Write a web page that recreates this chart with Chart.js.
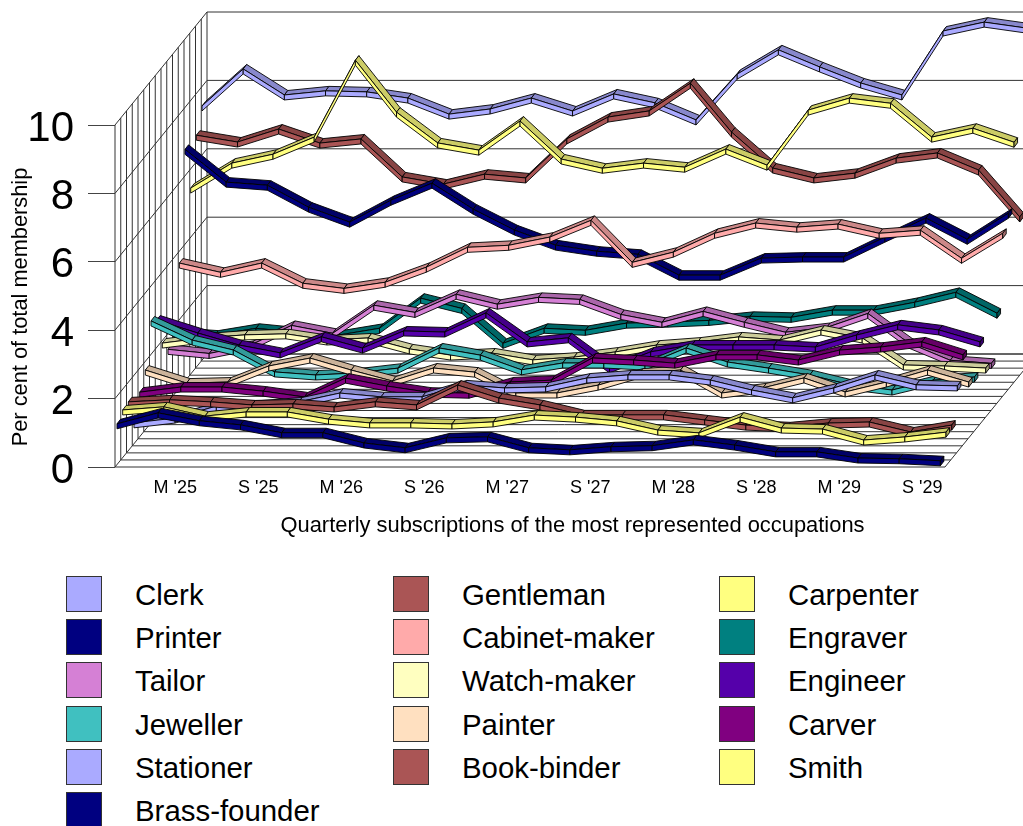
<!DOCTYPE html>
<html>
<head>
<meta charset="utf-8">
<title>Quarterly subscriptions</title>
<script src="https://cdn.jsdelivr.net/npm/chart.js@4"></script>
<style>
  html, body { margin: 0; padding: 0; width: 1023px; height: 826px; overflow: hidden; background: #fff; }
  body { position: relative; font-family: "Liberation Sans", Arial, sans-serif; color: #000; }
  #chart { position: absolute; left: 0; top: 0; }
  .legend-col { position: absolute; top: 576px; }
  .legend-row { position: relative; height: 43.2px; width: 300px; }
  .swatch { position: absolute; left: 0; top: 0; width: 34px; height: 34px; border: 1px solid #333; }
  .legend-row span { position: absolute; left: 69px; top: 1px; font-size: 29.4px; line-height: 36px; white-space: nowrap; }
</style>
</head>
<body>
<canvas id="chart" width="1030" height="545"></canvas>
<div class="legend-col" style="left:66px" data-col="0"></div>
<div class="legend-col" style="left:393px" data-col="1"></div>
<div class="legend-col" style="left:719px" data-col="2"></div>
<script>
// ── Data ──────────────────────────────────────────────────────────
const xLabels = ["M '25", "S '25", "M '26", "S '26", "M '27", "S '27", "M '28", "S '28", "M '29", "S '29"];
const yMaxTick = 10;

const clerk        = [7.40,8.48,7.72,7.84,7.81,7.63,7.16,7.31,7.63,7.25,7.75,7.49,6.99,8.33,9.04,8.54,8.07,7.72,9.59,9.85,9.68];
const gentleman    = [6.75,6.55,6.93,6.52,6.64,5.53,5.32,5.61,5.50,6.64,7.28,7.46,8.27,6.84,5.79,5.50,5.64,6.08,6.23,5.73,4.36];
const carpenter    = [5.41,6.14,6.40,6.90,9.15,7.63,6.73,6.52,7.37,6.26,5.99,6.14,6.02,6.55,6.08,7.69,8.04,7.89,6.90,7.16,6.75];
const printer      = [6.75,5.79,5.70,5.06,4.62,5.26,5.76,5.00,4.39,3.95,3.77,3.68,3.07,3.07,3.57,3.60,3.60,4.18,4.74,4.12,4.88];
const cabinetMaker = [3.63,3.36,3.63,3.04,2.89,3.07,3.51,4.09,4.15,4.39,4.88,3.65,3.95,4.50,4.80,4.68,4.77,4.50,4.59,3.77,4.50];
const engraver     = [1.81,1.73,1.93,1.81,1.73,1.93,2.81,2.51,1.49,1.93,1.87,2.08,2.11,2.16,2.28,2.25,2.46,2.46,2.69,2.98,2.37];
const tailor       = [1.52,1.40,1.64,2.22,1.99,2.81,2.60,3.13,2.84,3.04,2.98,2.54,2.31,2.63,2.31,2.02,2.16,2.57,1.70,1.20,1.11];
const watchMaker   = [1.91,2.06,2.15,2.18,2.00,2.06,1.74,1.56,1.62,1.42,1.50,1.65,1.85,1.94,2.09,2.00,2.29,2.06,1.27,1.24,1.18];
const engineer     = [2.79,2.41,2.06,1.83,2.30,1.97,2.47,2.44,3.00,2.15,2.27,1.39,1.86,2.06,2.06,2.06,2.00,2.35,2.65,2.50,2.15];
const jeweller     = [2.97,2.41,2.12,1.48,1.39,1.45,1.59,2.18,1.97,1.54,1.74,1.74,1.68,2.18,1.77,1.59,1.39,1.10,0.95,1.24,1.33];
const painter      = [1.74,1.36,1.39,1.86,2.09,1.74,1.42,1.80,1.68,1.07,1.07,1.30,1.65,1.74,1.07,1.22,1.51,1.10,1.39,1.74,1.39];
const carver       = [1.30,1.45,1.45,1.33,1.16,1.71,1.48,1.30,1.27,1.60,1.65,2.30,2.24,2.15,2.39,2.39,2.24,2.53,2.62,2.77,2.39];
const stationer    = [0.61,0.75,1.10,1.13,1.22,1.48,1.37,1.37,1.72,1.63,1.66,1.92,2.01,2.01,1.86,1.57,1.34,1.63,2.01,1.72,1.69];
const bookBinder   = [1.43,1.49,1.43,1.34,1.37,1.28,1.43,1.34,1.92,1.54,1.34,1.05,1.05,1.05,0.90,0.75,0.70,0.81,0.84,0.55,0.75];
const smith        = [1.40,1.49,1.22,1.34,1.34,1.13,1.02,1.02,0.99,1.05,1.25,1.19,1.08,0.81,0.73,1.19,0.87,0.84,0.52,0.61,0.75];
const brassFounder = [1.20,1.52,1.29,1.17,0.94,0.94,0.64,0.50,0.79,0.82,0.50,0.44,0.53,0.56,0.73,0.58,0.38,0.38,0.20,0.18,0.12];

// Back row first: the position in this list sets the row on the floor
const seriesNames  = ['Clerk','Gentleman','Carpenter','Printer','Cabinet-maker','Engraver','Tailor','Watch-maker',
                      'Engineer','Jeweller','Painter','Carver','Stationer','Book-binder','Smith','Brass-founder'];
const seriesValues = [clerk,gentleman,carpenter,printer,cabinetMaker,engraver,tailor,watchMaker,
                      engineer,jeweller,painter,carver,stationer,bookBinder,smith,brassFounder];
const seriesColors = ['#AAAAFF','#AA5555','#FFFF80','#000080','#FFAAAA','#008080','#D580D5','#FFFFC0',
                      '#5500AA','#40C0C0','#FFE0C0','#800080','#AAAAFF','#AA5555','#FFFF80','#000080'];

const legendColumns = [
    ['Clerk','Printer','Tailor','Jeweller','Stationer','Brass-founder'],
    ['Gentleman','Cabinet-maker','Watch-maker','Painter','Book-binder'],
    ['Carpenter','Engraver','Engineer','Carver','Smith']
];

// ── Oblique projection, in axis units ─────────────────────────────
const ROW_COUNT    = 16;
const QUARTER_STEP = 0.992;   // spacing of the points along x
const ROW_SHIFT_X  = 0.1366;  // sideways shift of one floor row
const ROW_SHIFT_Y  = 0.2064;  // upward shift of one floor row
const ROW_START_X  = 0.048;
const ROW_START_Y  = 0.062;
const WALL_X       = 92 / 41.5;
const WALL_Y       = 113 / 34.2;
const FLOOR_WIDTH  = 20;

// Ribbon thickness in pixels
const RIBBON_DEPTH_X = 3.5;
const RIBBON_DEPTH_Y = -4.5;
const RIBBON_HEIGHT  = 5;
const EDGE_COLOR     = '#000';

function darken(hex, factor) {
    const n = parseInt(hex.slice(1), 16);
    const ch = s => Math.round(((n >> s) & 255) * factor);
    return `rgb(${ch(16)},${ch(8)},${ch(0)})`;
}

function polygon(ctx, pts, fill) {
    ctx.beginPath();
    pts.forEach((p, i) => i ? ctx.lineTo(p[0], p[1]) : ctx.moveTo(p[0], p[1]));
    ctx.closePath();
    ctx.fillStyle = fill;
    ctx.fill();
    ctx.stroke();
}

// ── Walls and floor grid ──────────────────────────────────────────
const wallGrid = {
    id: 'wallGrid',
    beforeDatasetsDraw(chart) {
        const { ctx, scales: { x, y } } = chart;
        const line = (u0, v0, u1, v1) => {
            ctx.beginPath();
            ctx.moveTo(x.getPixelForValue(u0), y.getPixelForValue(v0));
            ctx.lineTo(x.getPixelForValue(u1), y.getPixelForValue(v1));
            ctx.stroke();
        };
        ctx.save();
        ctx.strokeStyle = '#333';
        ctx.lineWidth = 1;

        for (let v = 0; v <= yMaxTick; v += 2) {
            line(0, v, WALL_X, v + WALL_Y);                             // side wall
            line(WALL_X, v + WALL_Y, WALL_X + FLOOR_WIDTH, v + WALL_Y); // back wall
        }
        for (let k = 0; k <= ROW_COUNT; k++) {
            const f = k / ROW_COUNT;
            line(f * WALL_X, f * WALL_Y, f * WALL_X, f * WALL_Y + yMaxTick);  // side wall uprights
            line(f * WALL_X, f * WALL_Y, f * WALL_X + FLOOR_WIDTH, f * WALL_Y); // floor rows
        }
        line(FLOOR_WIDTH, 0, FLOOR_WIDTH + WALL_X, WALL_Y);
        ctx.restore();
    }
};

// ── Ribbons: each line dataset is painted as a folded strip ───────
const ribbons = {
    id: 'ribbons',
    beforeDatasetDraw(chart, args) {
        const { ctx } = chart;
        const pts = args.meta.data;
        const color = chart.data.datasets[args.index].borderColor;
        const topColor = darken(color, 0.8);
        const capColor = darken(color, 0.65);
        const back  = p => [p.x + RIBBON_DEPTH_X, p.y + RIBBON_DEPTH_Y];
        const mid   = p => [p.x, p.y];
        const under = p => [p.x, p.y + RIBBON_HEIGHT];

        ctx.save();
        ctx.strokeStyle = EDGE_COLOR;
        ctx.lineWidth = 0.9;
        ctx.lineJoin = 'round';
        for (let i = 0; i < pts.length - 1; i++) {
            const a = pts[i], b = pts[i + 1];
            polygon(ctx, [mid(a), mid(b), back(b), back(a)], topColor);
            polygon(ctx, [under(a), under(b), mid(b), mid(a)], color);
        }
        const end = pts[pts.length - 1];
        polygon(ctx, [mid(end), under(end), [end.x + RIBBON_DEPTH_X, end.y + RIBBON_DEPTH_Y + RIBBON_HEIGHT], back(end)], capColor);
        ctx.restore();
        return false;
    }
};

// ── Rotated caption on the value axis ─────────────────────────────
const valueCaption = {
    id: 'valueCaption',
    afterDraw(chart) {
        const { ctx } = chart;
        ctx.save();
        ctx.translate(21, 307);
        ctx.rotate(-Math.PI / 2);
        ctx.font = '21.8px "Liberation Sans", Arial, sans-serif';
        ctx.fillStyle = '#000';
        ctx.textAlign = 'center';
        ctx.textBaseline = 'middle';
        ctx.fillText('Per cent of total membership', 0, 0);
        ctx.restore();
    }
};

// ── Chart ─────────────────────────────────────────────────────────
Chart.defaults.font.family = '"Liberation Sans", Arial, sans-serif';
Chart.defaults.color = '#000';

const datasets = seriesNames.map((name, s) => {
    const row = ROW_COUNT - 1 - s;
    return {
        label: name,
        order: row,
        borderColor: seriesColors[s],
        backgroundColor: seriesColors[s],
        pointRadius: 0,
        data: seriesValues[s].map((v, i) => ({
            x: i * QUARTER_STEP + ROW_START_X + row * ROW_SHIFT_X,
            y: v + ROW_START_Y + row * ROW_SHIFT_Y
        }))
    };
});

new Chart(document.getElementById('chart'), {
    type: 'line',
    data: { datasets },
    plugins: [wallGrid, ribbons, valueCaption],
    options: {
        responsive: false,
        animation: false,
        layout: { padding: { top: 12 } },
        plugins: { legend: { display: false }, tooltip: { enabled: false } },
        scales: {
            x: {
                type: 'linear',
                min: 0,
                max: 915 / 41.5,
                grid: { display: false, drawTicks: false },
                border: { display: false },
                afterFit: s => { s.height = 78; s.paddingLeft = 0; s.paddingRight = 0; },
                afterBuildTicks: s => { s.ticks = xLabels.map((_, k) => ({ value: 1.45 + 2 * k })); },
                ticks: {
                    autoSkip: false,
                    maxRotation: 0,
                    padding: 10,
                    font: { size: 18 },
                    callback: (value, index) => xLabels[index]
                },
                title: {
                    display: true,
                    text: 'Quarterly subscriptions of the most represented occupations',
                    font: { size: 21.9 },
                    padding: { top: 0, bottom: 6 }
                }
            },
            y: {
                type: 'linear',
                min: 0,
                max: 455 / 34.2,
                grid: { drawOnChartArea: false, tickLength: 27, color: '#444' },
                border: { display: false },
                afterFit: s => { s.width = 115; s.paddingTop = 0; s.paddingBottom = 0; },
                afterBuildTicks: s => { s.ticks = s.ticks.filter(t => t.value <= yMaxTick); },
                ticks: { stepSize: 2, padding: 14, labelOffset: 4, font: { size: 42 } }
            }
        }
    }
});

// ── Legend ────────────────────────────────────────────────────────
document.querySelectorAll('.legend-col').forEach(col => {
    legendColumns[col.dataset.col].forEach(name => {
        const row = document.createElement('div');
        row.className = 'legend-row';
        row.innerHTML = `<div class="swatch" style="background:${seriesColors[seriesNames.indexOf(name)]}"></div><span>${name}</span>`;
        col.appendChild(row);
    });
});
</script>
</body>
</html>
